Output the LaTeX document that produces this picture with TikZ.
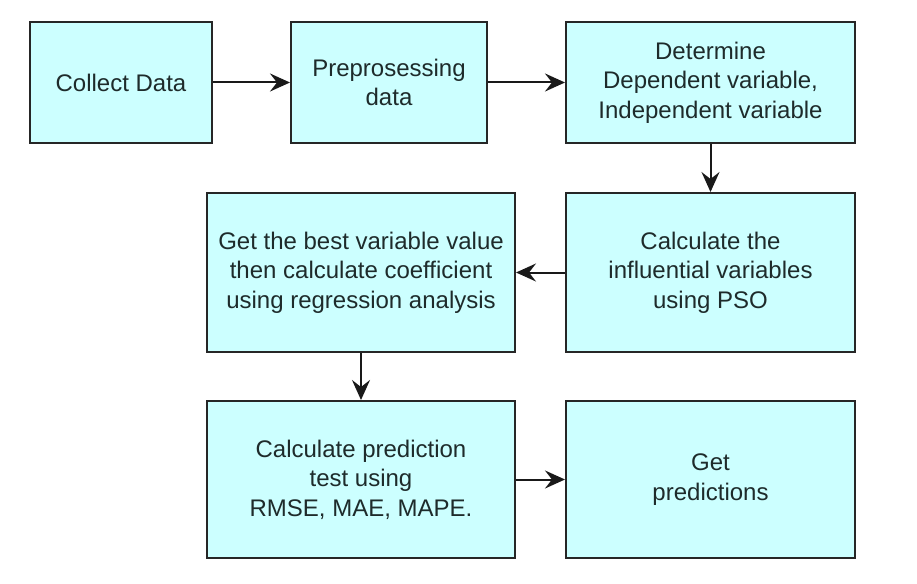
\documentclass[tikz,border=0pt]{standalone}
\usepackage{fontspec}
\setmainfont{Liberation Sans}
\usetikzlibrary{arrows.meta}

\definecolor{boxfill}{HTML}{CCFFFF}
\definecolor{boxtext}{HTML}{1E2B2B}

\tikzset{
  stepbox/.style={draw=black!85, line width=2pt, fill=boxfill, text=boxtext,
    align=center, inner sep=0pt, font=\fontsize{24}{29.5}\selectfont},
  flow/.style={-{Stealth[length=20pt,width=18pt,inset=7pt]}, line width=2pt, black!90}
}

\begin{document}
\begin{tikzpicture}[x=1pt, y=-1pt]
        \useasboundingbox (0,0) rectangle (917,583);

        % top row
        \node[stepbox, minimum width=182pt, minimum height=121pt] at (121,82.5) (collect) {Collect Data};
        \node[stepbox, minimum width=196pt, minimum height=121pt] at (389,82.5) (prep) {Preprosessing\\data};
        \node[stepbox, minimum width=289pt, minimum height=121pt] at (710.5,82.5) (determine) {Determine\\Dependent variable,\\Independent variable};

        % middle row
        \node[stepbox, minimum width=308pt, minimum height=159pt] at (361,272.5) (best) {Get the best variable value\\then calculate coefficient\\using regression analysis};
        \node[stepbox, minimum width=289pt, minimum height=159pt] at (710.5,272.5) (pso) {Calculate the\\influential variables\\using PSO};

        % bottom row
        \node[stepbox, minimum width=308pt, minimum height=157pt] at (361,479.5) (test) {Calculate prediction\\test using\\RMSE, MAE, MAPE.};
        \node[stepbox, minimum width=289pt, minimum height=157pt] at (710.5,479.5) (predict) {Get\\predictions};

        \draw[flow] (collect)--(prep);
        \draw[flow] (prep)--(determine);
        \draw[flow] (determine)--(pso);
        \draw[flow] (pso)--(best);
        \draw[flow] (best)--(test);
        \draw[flow] (test)--(predict);
\end{tikzpicture}
\end{document}
